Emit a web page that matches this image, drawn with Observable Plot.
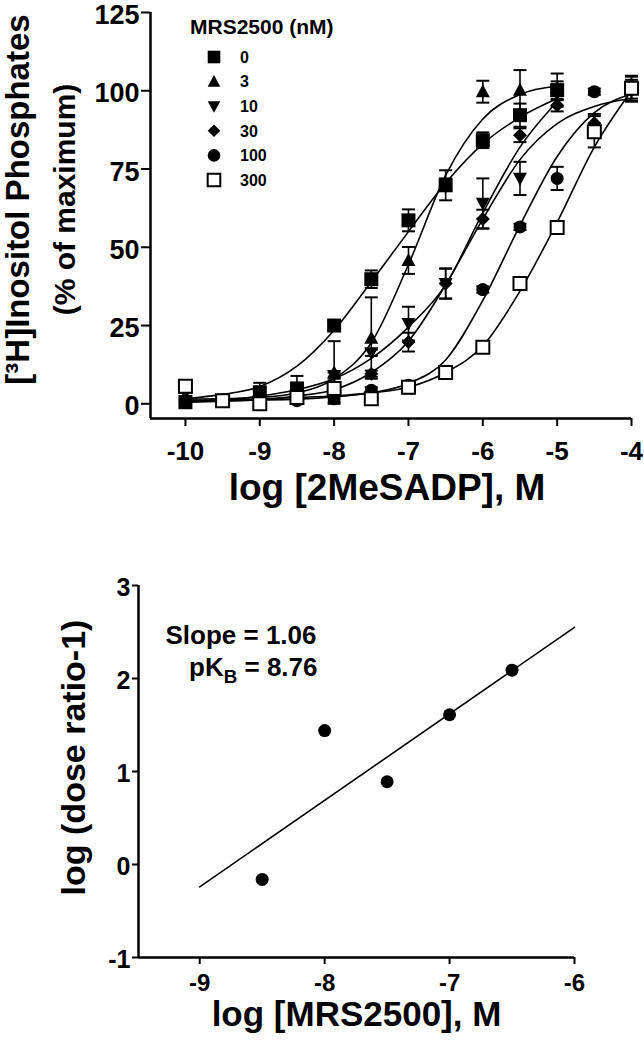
<!DOCTYPE html>
<html><head><meta charset="utf-8">
<script src="https://cdn.jsdelivr.net/npm/d3@7"></script>
<script src="https://cdn.jsdelivr.net/npm/@observablehq/plot@0.6"></script>
<style>
html,body{margin:0;padding:0;background:#fff;}
#wrap{position:relative;width:644px;height:1050px;overflow:hidden;background:#fff;}
#top,#bottom{position:absolute;left:0;}
#top{top:0;}
#bottom{top:530px;}
svg{overflow:visible;}
</style></head>
<body><div id="wrap"><div id="top"></div><div id="bottom"></div></div>
<script>
// ---------- data: top panel ----------
const logAgonist = [-10, -9.5, -9, -8.5, -8, -7.5, -7, -6.5, -6, -5.5, -5, -4.5, -4];
const mrsLabels = ["0", "3", "10", "30", "100", "300"];
const resp0   = [0.5, 1, 3.7, 4.9, 25, 39.8, 58.6, 69.8, 84.2, 92.2, 100.2];
const sem0    = [1, 1.5, 3, 4, 1.5, 2.8, 3.5, 4.8, 2.5, 3.7, 5.3];
const resp3   = [2.5, 1, 1, 2, 10, 21, 45.8, 70, 99.7, 100.2, 101];
const sem3    = [1, 1, 1, 1, 10, 13, 4.3, 2, 3.5, 6.4, 2];
const resp10  = [1, 1, 0.5, 2, 9, 16.3, 25.6, 38.4, 64, 72, 99];
const sem10   = [1, 1, 1, 1, 1, 1, 5.4, 4.8, 8, 5.3, 2];
const resp30  = [1, 1, 0, 1.5, 4, 9.6, 19.7, 38.4, 59, 85.8, 95.4, 89.6, 100.5];
const sem30   = [1, 1, 1, 1, 1, 1, 3, 4.8, 3, 2.2, 2, 3, 4];
const resp100 = [0.5, 1, 0.5, 1, 1.6, 4.3, 5.9, 10.1, 36.5, 56.5, 72, 99.7, 100.5];
const sem100  = [1, 1, 1, 1, 1, 1, 1, 2, 1, 1, 3.7, 1, 3];
const resp300 = [5.6, 1, 0, 2, 4.9, 1.6, 5.3, 10, 18.1, 38.4, 56.3, 86.9, 100.8];
const sem300  = [1, 1, 1, 1, 2, 1, 2, 2, 1, 2, 1, 5, 4];
// fitted curves at the same log steps
const fit0   = [1.6, 3, 5.5, 12, 23.5, 39, 55, 70.5, 83, 91.5, 97.5];
const fit3   = [1.5, 1.6, 2, 3.5, 8, 19.5, 44.5, 73, 91, 98.8, 101.5];
const fit10  = [1, 1.3, 2.5, 4.5, 8, 14.5, 24.5, 38, 61, 82, 96.5];
const fit30  = [0.5, 0.8, 1.3, 2.5, 4.5, 10, 20, 38, 59, 78, 89.5, 95, 97.5];
const fit100 = [0.8, 1, 1.2, 1.5, 2.2, 3.5, 6.5, 14, 33, 57, 79, 93, 99];
const fit300 = [1, 1.2, 1.5, 2, 2.5, 3.5, 5.3, 10, 18.5, 36, 58, 82, 100];
const xTicksTop = [-10, -9, -8, -7, -6, -5, -4];
const yTicksTop = [0, 25, 50, 75, 100, 125];
const xDomTop = [-10.47, -4];
const yDomTop = [-4.7, 125];

// ---------- data: bottom panel (Schild plot) ----------
const logAntagonist = [-8.5, -8, -7.5, -7, -6.5];
const logDoseRatio  = [-0.16, 1.44, 0.89, 1.61, 2.09];
const regLineX = [-9, -6];
const regLineY = [-0.24, 2.55];
const xTicksBot = [-9, -8, -7, -6];
const yTicksBot = [-1, 0, 1, 2, 3];
const xDomBot = [-9.49, -6];
const yDomBot = [-1, 3];

// ---------- symbols ----------
const rad = s => Math.sqrt(s / Math.PI);
const symSquare = {draw(c, s) { const r = rad(s); c.rect(-r, -r, 2 * r, 2 * r); }};
const symTriUp = {draw(c, s) { const r = rad(s); c.moveTo(0, -r * 1.05); c.lineTo(r, r * 0.8); c.lineTo(-r, r * 0.8); c.closePath(); }};
const symTriDown = {draw(c, s) { const r = rad(s); c.moveTo(0, r * 1.05); c.lineTo(r, -r * 0.8); c.lineTo(-r, -r * 0.8); c.closePath(); }};
const symDiamond = {draw(c, s) { const r = rad(s); c.moveTo(0, -r); c.lineTo(r, 0); c.lineTo(0, r); c.lineTo(-r, 0); c.closePath(); }};
const symCircle = {draw(c, s) { const r = rad(s); c.moveTo(r, 0); c.arc(0, 0, r, 0, 2 * Math.PI); }};
const symCap = {draw(c, s) { const r = rad(s); c.moveTo(-r, 0); c.lineTo(r, 0); }};

const series = [
  {label: mrsLabels[0], y: resp0, e: sem0, fit: fit0, sym: symSquare, r: 7, fill: "black", sw: 0},
  {label: mrsLabels[1], y: resp3, e: sem3, fit: fit3, sym: symTriUp, r: 7, fill: "black", sw: 0},
  {label: mrsLabels[2], y: resp10, e: sem10, fit: fit10, sym: symTriDown, r: 7, fill: "black", sw: 0},
  {label: mrsLabels[3], y: resp30, e: sem30, fit: fit30, sym: symDiamond, r: 7, fill: "black", sw: 0},
  {label: mrsLabels[4], y: resp100, e: sem100, fit: fit100, sym: symCircle, r: 6.5, fill: "black", sw: 0},
  {label: mrsLabels[5], y: resp300, e: sem300, fit: fit300, sym: symSquare, r: 6.5, fill: "white", sw: 2}
];

const FONT = "'Liberation Sans', Arial, Helvetica, sans-serif";
const fmt = d => String(d);

// ---------- top chart ----------
const curveRows = series.flatMap(s => s.fit.map((v, i) => ({conc: s.label, x: logAgonist[i], y: v})));
const topMarks = [
  Plot.line(curveRows, {x: "x", y: "y", z: "conc", curve: "monotone-x", stroke: "black", strokeWidth: 1.6})
];
for (const s of series) {
  const rows = s.y.map((v, i) => ({x: logAgonist[i], y: v, e: s.e[i]}));
  topMarks.push(
    Plot.ruleX(rows, {x: "x", y1: d => d.y - d.e, y2: d => d.y + d.e, stroke: "black", strokeWidth: 1.6}),
    Plot.dot(rows, {x: "x", y: d => d.y + d.e, symbol: symCap, r: 6.5, stroke: "black", strokeWidth: 2, fill: "none"}),
    Plot.dot(rows, {x: "x", y: d => d.y - d.e, symbol: symCap, r: 6.5, stroke: "black", strokeWidth: 2, fill: "none"})
  );
}
for (const s of series) {
  const rows = s.y.map((v, i) => ({x: logAgonist[i], y: v}));
  topMarks.push(Plot.dot(rows, {x: "x", y: "y", symbol: s.sym, r: s.r, fill: s.fill,
    stroke: s.sw ? "black" : "none", strokeWidth: s.sw}));
}
topMarks.push(
  Plot.ruleX([xDomTop[0]], {y1: yDomTop[0], y2: yDomTop[1], stroke: "black", strokeWidth: 2.5}),
  Plot.ruleY([yDomTop[0]], {x1: xDomTop[0], x2: xDomTop[1], stroke: "black", strokeWidth: 2.5}),
  Plot.axisX({ticks: xTicksTop, tickFormat: fmt, tickSize: 8, tickPadding: 15, strokeWidth: 2, fontSize: 26, fontWeight: "bold", label: null}),
  Plot.axisY({ticks: yTicksTop, tickSize: 9, strokeWidth: 2, text: null, label: null}),
  Plot.axisY({ticks: yTicksTop, tickFormat: fmt, tickSize: 0, tickPadding: 11, dy: 3, fontSize: 27, fontWeight: "bold", label: null}),
  Plot.text(["log [2MeSADP], M"], {frameAnchor: "bottom", dx: -4, dy: 81, fontSize: 37, fontWeight: "bold", textAnchor: "middle"}),
  Plot.text(["[³H]Inositol Phosphates"], {frameAnchor: "left", rotate: -90, dx: -132, dy: -16, fontSize: 33, fontWeight: "bold", textAnchor: "middle"}),
  Plot.text(["(% of maximum)"], {frameAnchor: "left", rotate: -90, dx: -85, dy: -16, fontSize: 30, fontWeight: "bold", textAnchor: "middle"})
);

const topChart = Plot.plot({
  width: 644, height: 530,
  marginLeft: 150, marginRight: 13, marginTop: 12, marginBottom: 112,
  x: {type: "linear", domain: xDomTop},
  y: {type: "linear", domain: yDomTop},
  style: {fontFamily: FONT, fontWeight: "bold", color: "black", background: "white", overflow: "visible"},
  marks: topMarks
});
document.getElementById("top").appendChild(topChart);

// legend inside the top chart
{
  const svg = d3.select(topChart);
  const lg = svg.append("g").attr("font-family", FONT).attr("font-weight", "bold")
    .attr("fill", "black").attr("text-anchor", "start");
  lg.append("text").attr("x", 190).attr("y", 34).attr("font-size", 21).attr("text-anchor", "start").text("MRS2500 (nM)");
  series.forEach((s, i) => {
    const cy = 57 + i * 24.6;
    lg.append("path")
      .attr("transform", `translate(214,${cy})`)
      .attr("d", d3.symbol(s.sym, Math.PI * 6.3 * 6.3)())
      .attr("fill", s.fill)
      .attr("stroke", s.sw ? "black" : "none")
      .attr("stroke-width", s.sw);
    lg.append("text").attr("x", 240).attr("y", cy).attr("dy", "0.36em").attr("font-size", 16)
      .attr("text-anchor", "start").text(s.label);
  });
}

// ---------- bottom chart ----------
const schildRows = logAntagonist.map((x, i) => ({x, y: logDoseRatio[i]}));
const regRows = regLineX.map((x, i) => ({x, y: regLineY[i]}));
const botChart = Plot.plot({
  width: 644, height: 520,
  marginLeft: 138, marginRight: 70, marginTop: 55, marginBottom: 93,
  x: {type: "linear", domain: xDomBot},
  y: {type: "linear", domain: yDomBot},
  style: {fontFamily: FONT, fontWeight: "bold", color: "black", background: "white", overflow: "visible"},
  marks: [
    Plot.line(regRows, {x: "x", y: "y", stroke: "black", strokeWidth: 1.6}),
    Plot.dot(schildRows, {x: "x", y: "y", symbol: symCircle, r: 6.5, fill: "black"}),
    Plot.ruleX([xDomBot[0]], {y1: yDomBot[0], y2: yDomBot[1], stroke: "black", strokeWidth: 2.5}),
    Plot.ruleY([yDomBot[0]], {x1: xDomBot[0], x2: xDomBot[1], stroke: "black", strokeWidth: 2.5}),
    Plot.axisX({ticks: xTicksBot, tickFormat: fmt, tickSize: 7, tickPadding: 9, strokeWidth: 2, fontSize: 24, fontWeight: "bold", label: null}),
    Plot.axisY({ticks: yTicksBot, tickSize: 6, strokeWidth: 2, text: null, label: null}),
    Plot.axisY({ticks: yTicksBot, tickFormat: fmt, tickSize: 0, tickPadding: 8, dy: 2, fontSize: 25, fontWeight: "bold", label: null}),
    Plot.text(["log [MRS2500], M"], {frameAnchor: "bottom", dx: 0, dy: 68, fontSize: 35, fontWeight: "bold", textAnchor: "middle"}),
    Plot.text(["log (dose ratio-1)"], {frameAnchor: "left", rotate: -90, dx: -64, dy: -14, fontSize: 34, fontWeight: "bold", textAnchor: "middle"}),
    Plot.text(["Slope = 1.06"], {frameAnchor: "top-left", dx: 178, dy: 40, fontSize: 26, fontWeight: "bold", textAnchor: "end"}),
    Plot.text(["pKB = 8.76"], {frameAnchor: "top-left", dx: 179, dy: 72, fontSize: 26, fontWeight: "bold", textAnchor: "end"})
  ]
});
document.getElementById("bottom").appendChild(botChart);
d3.select(botChart).selectAll("text").filter(function() { return this.textContent === "pKB = 8.76"; })
  .each(function() {
    const t = d3.select(this);
    t.text(null);
    t.append("tspan").text("pK");
    t.append("tspan").attr("font-size", "0.72em").attr("dy", "0.35em").text("B");
    t.append("tspan").attr("dy", "-0.25em").text(" = 8.76");
  });
</script>
</body></html>
